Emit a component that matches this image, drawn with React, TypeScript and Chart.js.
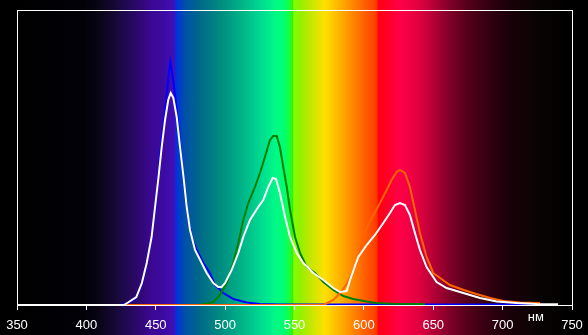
import React, { useEffect, useRef } from 'react';
import { Chart, registerables } from 'chart.js';
Chart.register(...registerables);

const xTicks = [350, 400, 450, 500, 550, 600, 650, 700, 750];
const unitLabel = 'нм';

const blueNm = [350, 425, 430, 435, 440, 443.5, 447, 450, 453, 455.5, 458, 459.5, 460.5, 461.5, 463.2, 464.6, 467.5, 470, 473.5, 476, 479.5, 484.3, 489, 492.7, 498.7, 506, 515.5, 525, 540, 724];
const blueVal = [0, 0, 2, 6, 20, 42, 68, 100, 150, 180, 212, 232, 243, 235, 218, 202, 162, 125, 85, 68, 55, 42, 32, 20, 12, 6, 2.5, 1, 0.5, 0.5];

const greenNm = [350, 482, 491.5, 496.3, 501.1, 505.9, 509.5, 513.1, 516.7, 521.5, 525.1, 528.7, 532.3, 534.7, 537.2, 539.5, 541.9, 544.4, 546.8, 550.4, 554, 558.8, 564.8, 570.8, 578, 585.2, 592.4, 602, 609.2, 620, 644];
const greenVal = [0, 0, 3, 10, 22, 42, 62, 85, 102, 118, 132, 148, 165, 169, 169, 158, 138, 118, 95, 68, 52, 38, 32, 23, 15, 9, 6, 3.5, 2, 1.2, 1];

const redNm = [350, 571, 578, 583, 588, 595, 600, 603.5, 607, 611.6, 616.4, 620, 623.6, 626, 629.6, 633.2, 636.8, 640.4, 645.2, 650, 654.9, 662, 672, 681, 691, 700.5, 712.5, 727];
const redVal = [0, 0, 5, 12, 22, 42, 68, 82, 90, 102, 115, 125, 133, 135, 132, 118, 95, 72, 48, 32, 27, 20, 15, 11, 7, 4, 2.5, 2];

const whiteNm = [350, 427, 430, 436, 440, 443.5, 447, 449.5, 452, 454.3, 456.7, 459, 460.8, 462.7, 465.1, 467.5, 470, 472.3, 474.7, 478.3, 482, 486.7, 491.5, 495, 497.5, 500, 504.7, 509.5, 513.1, 517.9, 523.9, 527.5, 531.1, 534.3, 536.7, 539.5, 543.2, 546.8, 551.6, 556.4, 563.6, 570.8, 578, 582.8, 587.6, 590, 596, 602, 608, 614, 618.8, 622.4, 626, 629.6, 633.2, 636.8, 640.4, 645.2, 652.4, 659.6, 671.7, 683.7, 695.7, 710, 724.5, 740];
const whiteVal = [0, 0, 2.5, 8, 22, 42, 68, 98, 128, 158, 185, 205, 212, 207, 188, 158, 128, 98, 75, 55, 45, 32, 22, 18, 18, 22, 35, 52, 68, 85, 98, 105, 118, 127, 126, 112, 88, 68, 52, 42, 32, 25, 17, 13, 14, 25, 48, 60, 70, 82, 92, 100, 102, 100, 90, 72, 55, 38, 23, 17, 12, 7, 3.5, 2, 1, 0.7];

const spectrumNm = [350, 398, 410, 424, 438, 446, 455, 463.5, 464.5, 471, 482, 496, 511, 525, 536, 543, 547, 548.5, 549.5, 554, 561, 572, 583, 597, 608, 609.5, 610.5, 619, 626, 640, 651, 662, 676, 691, 705, 720, 734, 750];
const spectrumColor = ['#000000', '#020108', '#0a0518', '#1a0a40', '#2e0870', '#3a0890', '#3c0aa0', '#4010b8', '#0030e0', '#0050a8', '#006a88', '#008a80', '#00b088', '#00d890', '#00f888', '#00ff70', '#20ff30', '#30f010', '#80ff00', '#90f000', '#c0e800', '#ffe000', '#ffb000', '#ff7000', '#ff4000', '#ff3000', '#ff0010', '#ff0030', '#ff0048', '#e00040', '#b00035', '#800028', '#500018', '#300010', '#1a0008', '#0e0404', '#050202', '#000000'];

const toPoints = (xs: number[], ys: number[]) => xs.map((x, i) => ({ x, y: ys[i] }));

const spectrumPlugin = {
  id: 'spectrum',
  beforeDraw(chart: any) {
    const { ctx, width, height } = chart;
    const xs = chart.scales.x;
    ctx.save();
    ctx.fillStyle = '#000';
    ctx.fillRect(0, 0, width, height);
    const x0 = xs.getPixelForValue(350);
    const x1 = xs.getPixelForValue(750);
    const g = ctx.createLinearGradient(x0, 0, x1, 0);
    spectrumNm.forEach((nm, i) => g.addColorStop((nm - 350) / 400, spectrumColor[i]));
    ctx.fillStyle = g;
    ctx.fillRect(x0, 0, x1 - x0, height);
    ctx.restore();
  },
  afterDraw(chart: any) {
    const { ctx, chartArea } = chart;
    const xs = chart.scales.x;
    ctx.save();
    ctx.strokeStyle = '#fff';
    ctx.lineWidth = 1;
    const l = Math.round(chartArea.left) + 0.5;
    const t = Math.round(chartArea.top) + 0.5;
    const r = Math.round(chartArea.right) + 0.5;
    const b = Math.round(chartArea.bottom) + 0.5;
    ctx.strokeRect(l, t, r - l, b - t);
    ctx.fillStyle = '#fff';
    ctx.font = '13px "Liberation Sans", Arial, sans-serif';
    ctx.textAlign = 'center';
    ctx.textBaseline = 'middle';
    ctx.fillText(unitLabel, xs.getPixelForValue(724), chartArea.bottom + 12);
    ctx.restore();
  },
};

export default function App() {
  const ref = useRef<HTMLCanvasElement>(null);
  useEffect(() => {
    document.body.style.margin = '0';
    document.body.style.background = '#000';
    const chart = new Chart(ref.current!, {
      type: 'line',
      data: {
        datasets: [
          { data: toPoints(whiteNm, whiteVal), borderColor: '#ffffff', order: 0 },
          { data: toPoints(redNm, redVal), borderColor: '#ff6400', order: 1 },
          { data: toPoints(greenNm, greenVal), borderColor: '#008000', order: 2 },
          { data: toPoints(blueNm, blueVal), borderColor: '#0000ff', order: 3 },
        ].map((d) => ({ ...d, borderWidth: 2, pointRadius: 0, tension: 0, fill: false })),
      },
      options: {
        animation: false,
        responsive: false,
        layout: { padding: { left: 17, right: 16, top: 10, bottom: 0 } },
        plugins: { legend: { display: false }, tooltip: { enabled: false } },
        scales: {
          x: {
            type: 'linear',
            min: 350,
            max: 750,
            afterBuildTicks: (axis: any) => {
              axis.ticks = xTicks.map((v) => ({ value: v }));
            },
            afterFit: (axis: any) => {
              axis.height = 30;
              axis.paddingLeft = 0;
              axis.paddingRight = 0;
            },
            grid: { drawOnChartArea: false, drawTicks: true, tickLength: 5, color: '#ffffff' },
            border: { display: false },
            ticks: {
              color: '#ffffff',
              padding: 8,
              maxRotation: 0,
              autoSkip: false,
              font: { family: '"Liberation Sans", Arial, sans-serif', size: 13 },
            },
          },
          y: { display: false, min: 0, max: 295 },
        },
      },
      plugins: [spectrumPlugin],
    });
    return () => chart.destroy();
  }, []);
  return (
    <div style={{ width: 588, height: 335 }}>
      <canvas ref={ref} width={588} height={335} style={{ display: 'block' }} />
    </div>
  );
}
